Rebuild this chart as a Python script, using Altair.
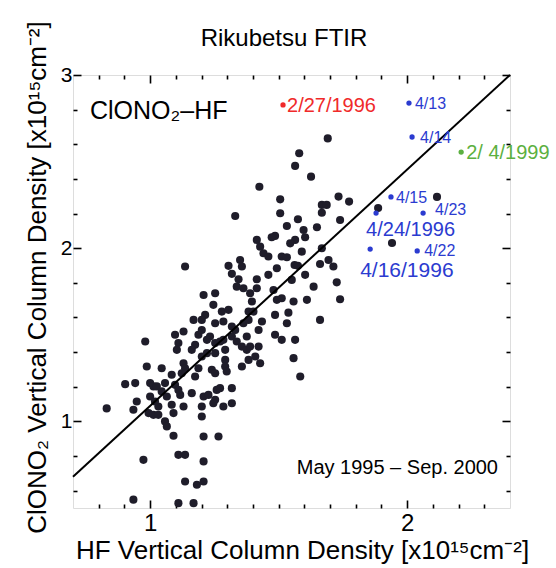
import altair as alt
import pandas as pd

# ---------------- data ----------------
hf = [1.691, 1.580, 1.564, 1.626, 1.425, 1.506, 1.733, 1.774, 1.668, 1.687,
      1.331, 1.506, 1.575, 1.532, 1.739, 1.668, 1.649, 1.597, 1.486, 1.473,
      1.603, 1.564, 1.415, 1.428, 1.441, 1.460, 1.545, 1.512, 1.532, 1.590,
      1.668, 1.661, 1.694, 1.713, 1.562, 1.575, 1.603, 1.136, 1.350, 1.305,
      1.357, 1.318, 1.415, 1.460, 1.493, 1.551, 1.636, 1.726, 1.344, 1.337,
      1.363, 1.389, 1.415, 1.480, 1.610, 1.739, 1.208, 1.253, 1.246, 1.396,
      1.493, 1.512, 1.558, 1.279, 1.305, 1.383, 1.402, 1.538, 1.486, 1.214,
      1.201, 1.169, 1.285, 1.253, 1.318, 1.331, 1.363, 1.383, 1.435, 1.422,
      1.532, 1.661, 1.097, 1.130, 0.981, 1.188, 1.201, 1.233, 1.221, 1.253,
      1.272, 1.285, 1.318, 1.337, 1.357, 1.376, 1.486, 1.512, 1.564, 1.110,
      1.104, 1.175, 1.162, 1.201, 1.221, 1.253, 1.292, 1.292, 1.376, 1.389,
      1.422, 1.383, 1.409, 1.428, 1.558, 0.987, 1.045, 1.130, 1.136, 1.084,
      1.123, 1.188, 1.175, 1.240, 1.253, 1.292, 1.298, 1.357, 1.584, 0.903,
      0.942, 1.000, 1.013, 1.026, 1.058, 1.097, 1.110, 1.117, 1.045, 1.065,
      1.000, 1.019, 1.162, 1.208, 1.227, 1.259, 1.272, 1.318, 0.948, 0.935,
      1.032, 1.084, 1.130, 1.201, 1.253, 1.246, 1.285, 1.318, 0.831, 0.994,
      1.013, 1.032, 1.091, 1.201, 1.058, 1.065, 1.091, 1.208, 1.266, 1.110,
      1.136, 0.974, 1.208, 1.136, 1.182, 1.208, 0.935, 1.110, 1.169, 2.116,
      1.887, 1.941]
clono2 = [2.634, 2.548, 2.475, 2.413, 2.355, 2.282, 2.298, 2.269, 2.250, 2.250,
          2.186, 2.202, 2.167, 2.128, 2.163, 2.205, 2.121, 2.105, 2.071, 2.063,
          2.063, 2.048, 2.048, 2.009, 1.971, 1.952, 2.028, 1.952, 1.948, 1.980,
          2.000, 1.909, 1.932, 1.894, 1.903, 1.898, 1.846, 1.894, 1.932, 1.898,
          1.894, 1.852, 1.821, 1.846, 1.884, 1.817, 1.778, 1.803, 1.821, 1.778,
          1.769, 1.740, 1.769, 1.759, 1.702, 1.705, 1.730, 1.740, 1.673, 1.692,
          1.702, 1.711, 1.692, 1.634, 1.644, 1.634, 1.634, 1.628, 1.615, 1.615,
          1.586, 1.586, 1.577, 1.567, 1.548, 1.528, 1.567, 1.586, 1.577, 1.528,
          1.567, 1.586, 1.500, 1.519, 1.461, 1.500, 1.528, 1.490, 1.471, 1.452,
          1.461, 1.471, 1.490, 1.461, 1.432, 1.490, 1.500, 1.471, 1.471, 1.452,
          1.413, 1.442, 1.413, 1.375, 1.394, 1.394, 1.413, 1.355, 1.413, 1.432,
          1.432, 1.355, 1.375, 1.336, 1.365, 1.317, 1.307, 1.336, 1.307, 1.269,
          1.278, 1.307, 1.259, 1.298, 1.278, 1.317, 1.288, 1.317, 1.259, 1.215,
          1.221, 1.221, 1.202, 1.202, 1.221, 1.211, 1.182, 1.153, 1.173, 1.144,
          1.144, 1.115, 1.163, 1.144, 1.153, 1.182, 1.192, 1.192, 1.115, 1.067,
          1.086, 1.096, 1.086, 1.086, 1.125, 1.105, 1.086, 1.105, 1.075, 1.048,
          1.038, 1.038, 1.048, 1.028, 1.000, 0.971, 0.917, 0.913, 0.913, 0.807,
          0.807, 0.778, 0.769, 0.653, 0.634, 0.653, 0.548, 0.528, 0.528, 2.296,
          2.232, 2.030]

event_labels = ["2/27/1996", "4/13", "4/14", "2/ 4/1999", "4/15", "4/23",
                "4/24/1996", "4/22", "4/16/1996"]
event_hf = [1.517, 2.007, 2.019, 2.210, 1.937, 2.062, 1.879, 2.039, 1.856]
event_clono2 = [2.827, 2.838, 2.642, 2.555, 2.296, 2.203, 2.203, 1.984, 1.995]
event_group = ["Feb 1996", "Apr 1996", "Apr 1996", "Feb 1999", "Apr 1996",
               "Apr 1996", "Apr 1996", "Apr 1996", "Apr 1996"]

fit_hf = [0.7, 2.4]
fit_clono2 = [0.68, 3.0]

x_domain = [0.7, 2.4]
y_domain = [0.5, 3.0]
x_major = [1, 2]
x_minor = [0.8, 0.9, 1.1, 1.2, 1.3, 1.4, 1.5, 1.6, 1.7, 1.8, 1.9,
           2.1, 2.2, 2.3]
y_major = [1, 2, 3]
y_minor = [0.6, 0.8, 1.2, 1.4, 1.6, 1.8, 2.2, 2.4, 2.6, 2.8]

chart_title = "Rikubetsu FTIR"
panel_label = "ClONO\u2082\u2013HF"
period_label = "May 1995 \u2013 Sep. 2000"

FONT = "Liberation Sans"
group_colors = {"Feb 1996": "#f02a2a", "Apr 1996": "#2b3bd0", "Feb 1999": "#5cb040"}

# ---------------- build chart ----------------
pts = pd.DataFrame({"hf": hf, "clono2": clono2})
ev = pd.DataFrame({"label": event_labels, "hf": event_hf,
                   "clono2": event_clono2, "group": event_group})
fit = pd.DataFrame({"hf": fit_hf, "clono2": fit_clono2})

xs = alt.Scale(domain=x_domain, nice=False, zero=False)
ys = alt.Scale(domain=y_domain, nice=False, zero=False)

XT = "HF Vertical Column Density [x10\u00b9\u2075cm\u207b\u00b2]"
YT = "ClONO\u2082 Vertical Column Density [x10\u00b9\u2075cm\u207b\u00b2]"


def tick_axis(orient, values, size, labels=False, title=None, **kw):
    return alt.Axis(orient=orient, values=values, tickSize=size, offset=-size,
                    domain=False, grid=False, labels=labels, title=title,
                    tickColor="black", tickWidth=1.6, **kw)


black = alt.Chart(pts).mark_circle(size=66, color="#1f1d2a", opacity=1).encode(
    x=alt.X("hf:Q", scale=xs,
            axis=tick_axis("bottom", x_major, 8, labels=True, title=XT,
                           labelFontSize=24, labelPadding=3, labelFont=FONT,
                           labelColor="black", titleFont=FONT, titleFontSize=26,
                           titleFontWeight="normal", titleColor="black",
                           titlePadding=2, titleX=229, titleAnchor="middle")),
    y=alt.Y("clono2:Q", scale=ys,
            axis=tick_axis("left", y_major, 8, labels=True, title=YT,
                           labelFontSize=21, labelPadding=1, labelFont=FONT,
                           labelColor="black", titleFont=FONT, titleFontSize=26,
                           titleFontWeight="normal", titleColor="black",
                           titlePadding=10, titleY=202, titleAnchor="middle")),
)

events = alt.Chart(ev).mark_circle(size=28, opacity=1).encode(
    x=alt.X("hf:Q", scale=xs, axis=tick_axis("bottom", x_minor, 4)),
    y=alt.Y("clono2:Q", scale=ys, axis=tick_axis("left", y_minor, 4)),
    color=alt.Color("group:N", legend=None,
                    scale=alt.Scale(domain=list(group_colors.keys()),
                                    range=list(group_colors.values()))),
)

fitline = alt.Chart(fit).mark_line(color="black", strokeWidth=2).encode(
    x=alt.X("hf:Q", scale=xs, axis=tick_axis("top", x_major, 8)),
    y=alt.Y("clono2:Q", scale=ys, axis=tick_axis("right", y_major, 8)),
)


def label_layer(lbl, size, dx, dy, axes=False):
    sub = ev[ev["label"] == lbl]
    color = group_colors[sub["group"].iloc[0]]
    if axes:
        xa = tick_axis("top", x_minor, 4)
        ya = tick_axis("right", y_minor, 4)
    else:
        xa = None
        ya = None
    return alt.Chart(sub).mark_text(
        align="left", baseline="middle", fontSize=size, font=FONT,
        color=color, dx=dx, dy=dy).encode(
        x=alt.X("hf:Q", scale=xs, axis=xa),
        y=alt.Y("clono2:Q", scale=ys, axis=ya),
        text="label:N")


labels = [
    label_layer("2/27/1996", 20, 4, 1, axes=True),
    label_layer("4/13", 16, 6, 1),
    label_layer("4/14", 16, 8, 1),
    label_layer("2/ 4/1999", 20, 5, 1),
    label_layer("4/15", 16, 5, 1),
    label_layer("4/23", 16, 12, -3),
    label_layer("4/24/1996", 20, -10, 17),
    label_layer("4/22", 16, 7, 0),
    label_layer("4/16/1996", 21, -10, 22),
]


def note(text, size, xpx, ypx, align):
    return alt.Chart(pd.DataFrame({"t": [text]})).mark_text(
        align=align, baseline="middle", fontSize=size, font=FONT,
        color="black").encode(x=alt.value(xpx), y=alt.value(ypx), text="t:N")


title_mark = note(chart_title, 24, 211, -36, "center")
name = note(panel_label, 25, 17, 36, "left")
period = note(period_label, 20, 425, 393, "right")

chart = alt.layer(black, events, fitline, *labels, title_mark, name, period).resolve_axis(
    x="independent", y="independent").properties(
    width=437, height=433,
    autosize=alt.AutoSizeParams(type="none"),
    padding={"left": 73, "top": 75, "right": 46, "bottom": 60},
).configure_view(stroke="black", strokeWidth=2).configure(background="white")

chart.save("out.html", embed_options={"renderer": "svg", "actions": False})
